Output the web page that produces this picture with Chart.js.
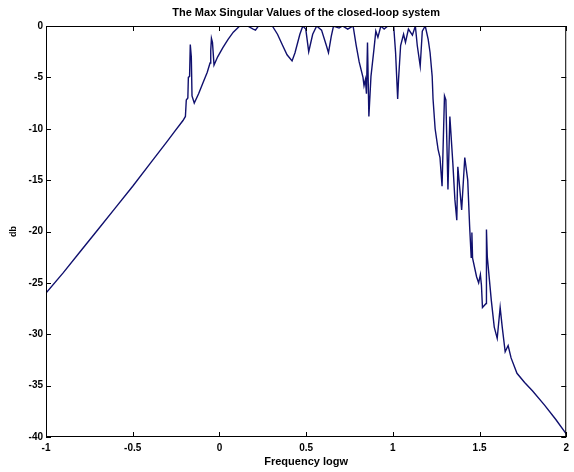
<!DOCTYPE html>
<html>
<head>
<meta charset="utf-8">
<script src="https://cdn.jsdelivr.net/npm/chart.js@4.4.1/dist/chart.umd.min.js"></script>
<style>
  html, body { margin: 0; padding: 0; background: #fff; }
  #wrap { width: 574px; height: 472px; }
</style>
</head>
<body>
<div id="wrap"><canvas id="myChart" width="574" height="472"></canvas></div>
<script>
// values: x is log10(w), y is the max singular value in dB
const logW = [
  -1.0, -0.9, -0.8, -0.7, -0.6, -0.5, -0.4, -0.3, -0.26, -0.21,
  -0.196, -0.191, -0.182, -0.179, -0.172, -0.168, -0.162, -0.158, -0.145, -0.12,
  -0.094, -0.07, -0.054, -0.05, -0.046, -0.04, -0.031, -0.01, 0.02, 0.05,
  0.08, 0.117, 0.162, 0.195, 0.208, 0.225, 0.305, 0.335, 0.362, 0.39,
  0.419, 0.436, 0.464, 0.481, 0.498, 0.515, 0.538, 0.561, 0.589, 0.615,
  0.629, 0.645, 0.658, 0.69, 0.71, 0.74, 0.771, 0.789, 0.806, 0.828,
  0.834, 0.842, 0.848, 0.854, 0.862, 0.874, 0.891, 0.902, 0.914, 0.931,
  0.95, 0.971, 1.005, 1.016, 1.028, 1.033, 1.045, 1.062, 1.073, 1.09,
  1.113, 1.13, 1.141, 1.158, 1.17, 1.187, 1.204, 1.215, 1.227, 1.232,
  1.244, 1.261, 1.272, 1.284, 1.298, 1.306, 1.318, 1.329, 1.346, 1.358,
  1.369, 1.375, 1.397, 1.415, 1.432, 1.443, 1.452, 1.456, 1.46, 1.483,
  1.495, 1.505, 1.511, 1.517, 1.538, 1.54, 1.545, 1.568, 1.585, 1.602,
  1.619, 1.631, 1.648, 1.665, 1.682, 1.716, 1.76, 1.805, 1.875, 1.94, 2.0
];
const magDb = [
  -26.0, -24.0, -21.9, -19.8, -17.7, -15.6, -13.4, -11.2, -10.3, -9.2,
  -8.8, -7.2, -7.0, -5.0, -4.9, -1.8, -3.0, -6.8, -7.5, -6.6,
  -5.5, -4.5, -3.6, -2.4, -1.2, -1.6, -3.8, -3.0, -2.1, -1.3,
  -0.6, 0.0, 0.0, -0.3, -0.4, 0.0, 0.0, -0.8, -1.8, -2.8,
  -3.4, -2.6, -0.8, 0.0, -0.3, -2.5, -0.8, 0.0, -0.4, -1.8,
  -2.6, -1.0, 0.0, -0.2, 0.0, -0.3, 0.0, -1.9, -3.5, -5.0,
  -5.8, -5.2, -6.6, -1.6, -8.8, -4.9, -2.3, -0.5, -1.1, 0.0,
  -0.3, 0.0, 0.0, -2.6, -7.1, -5.2, -1.9, -0.8, -1.6, -0.3,
  -0.9, 0.0, -1.9, -3.9, -0.5, 0.0, -1.3, -2.6, -4.9, -7.1,
  -10.0, -12.0, -12.8, -15.6, -6.8, -7.2, -15.9, -8.8, -13.3, -16.9,
  -18.9, -13.7, -17.9, -12.8, -15.0, -19.5, -22.5, -20.1, -22.6, -24.4,
  -25.0, -24.2, -25.2, -27.4, -27.0, -19.8, -22.5, -26.7, -29.3, -30.4,
  -27.4, -29.3, -31.7, -31.1, -32.3, -33.8, -34.7, -35.5, -36.9, -38.3, -39.7
];
const xTickLabels = ['-1', '-0.5', '0', '0.5', '1', '1.5', '2'];
const yTickLabels = ['-40', '-35', '-30', '-25', '-20', '-15', '-10', '-5', '0'];

const xTickValues = xTickLabels.map(Number);
const yTickValues = yTickLabels.map(Number);

const tickFont = { family: 'Liberation Sans', size: 10, weight: 'bold' };

// MATLAB-like box with inward ticks on all four sides, plus the title
const boxPlugin = {
  id: 'box',
  afterDraw(chart) {
    const { ctx, chartArea: a, scales: { x, y } } = chart;
    ctx.save();
    ctx.strokeStyle = '#000';
    ctx.lineWidth = 1;
    ctx.strokeRect(a.left + 0.5, a.top + 0.5, a.right - a.left - 1, a.bottom - a.top - 1);
    ctx.beginPath();
    xTickValues.forEach(v => {
      const px = Math.round(x.getPixelForValue(v)) + 0.5;
      ctx.moveTo(px, a.bottom); ctx.lineTo(px, a.bottom - 5);
      ctx.moveTo(px, a.top); ctx.lineTo(px, a.top + 5);
    });
    yTickValues.forEach(v => {
      const py = Math.round(y.getPixelForValue(v)) + 0.5;
      ctx.moveTo(a.left, py); ctx.lineTo(a.left + 5, py);
      ctx.moveTo(a.right, py); ctx.lineTo(a.right - 5, py);
    });
    ctx.stroke();
    ctx.fillStyle = '#000';
    ctx.font = 'bold 11px "Liberation Sans"';
    ctx.textAlign = 'center';
    ctx.textBaseline = 'middle';
    ctx.fillText('The Max Singular Values of the closed-loop system', (a.left + a.right) / 2, 13);
    ctx.restore();
  }
};

const ctx = document.getElementById('myChart').getContext('2d');

const myChart = new Chart(ctx, {
  type: 'line',
  data: {
    datasets: [{
      data: logW.map((w, i) => ({ x: w, y: magDb[i] })),
      borderColor: '#10106e',
      borderWidth: 1.4,
      pointRadius: 0,
      tension: 0,
      fill: false
    }]
  },
  options: {
    responsive: false,
    animation: false,
    layout: { padding: { top: 26, right: 2, left: 0, bottom: 0 } },
    plugins: {
      legend: { display: false },
      tooltip: { enabled: false }
    },
    scales: {
      x: {
        type: 'linear',
        min: -1, max: 2,
        afterFit: s => { s.height = 35; },
        afterBuildTicks: s => { s.ticks = xTickValues.map(v => ({ value: v })); },
        grid: { display: false, drawTicks: false },
        border: { display: false },
        ticks: {
          color: '#000', font: tickFont, padding: 5,
          callback: (v) => xTickLabels[xTickValues.indexOf(v)]
        },
        title: {
          display: true, text: 'Frequency logw', color: '#000',
          font: { family: 'Liberation Sans', size: 11, weight: 'bold' },
          padding: { top: 0, bottom: 3 }
        }
      },
      y: {
        type: 'linear',
        min: -40, max: 0,
        afterFit: s => { s.width = 46; },
        afterBuildTicks: s => { s.ticks = yTickValues.map(v => ({ value: v })); },
        grid: { display: false, drawTicks: false },
        border: { display: false },
        ticks: {
          color: '#000', font: tickFont, padding: 3,
          callback: (v) => yTickLabels[yTickValues.indexOf(v)]
        },
        title: {
          display: true, text: 'db', color: '#000',
          font: { family: 'Liberation Sans', size: 9, weight: 'bold' },
          padding: { top: 8, bottom: 0 }
        }
      }
    }
  },
  plugins: [boxPlugin]
});
</script>
</body>
</html>
